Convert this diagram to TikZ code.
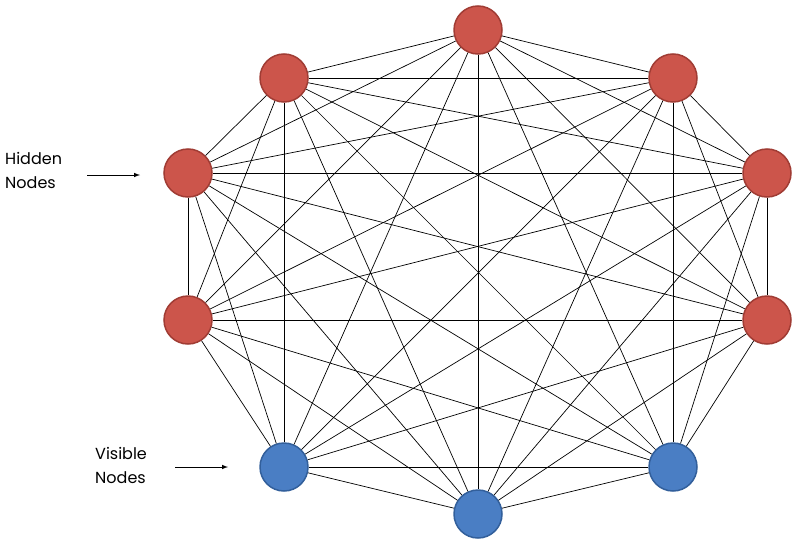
\documentclass[tikz,border=0pt]{standalone}
\usepackage{fontspec}
\setmainfont{Poppins}
\begin{document}
\begin{tikzpicture}[x=1pt,y=-1pt,
  hid/.style={circle,minimum size=48pt,inner sep=0pt,fill={rgb,255:red,204;green,85;blue,75},draw={rgb,255:red,160;green,60;blue,52},line width=1.5pt},
  vis/.style={circle,minimum size=48pt,inner sep=0pt,fill={rgb,255:red,74;green,126;blue,196},draw={rgb,255:red,50;green,95;blue,155},line width=1.5pt},
  lab/.style={align=left,font=\fontsize{16}{24}\selectfont,inner sep=0pt},
  edge/.style={line width=0.7pt,black}]
\useasboundingbox (0,0) rectangle (799,543);
\node[hid] (n1) at (478,30) {};
\node[hid] (n2) at (673,78) {};
\node[hid] (n3) at (767,173) {};
\node[hid] (n4) at (767,320) {};
\node[vis] (n5) at (673,467) {};
\node[vis] (n6) at (478,514) {};
\node[vis] (n7) at (284,467) {};
\node[hid] (n8) at (188,320) {};
\node[hid] (n9) at (188,173) {};
\node[hid] (n10) at (284,78) {};
\begin{scope}[on background layer/.style={}]
\foreach \i in {1,...,9} {
  \pgfmathtruncatemacro\k{\i+1}
  \foreach \j in {\k,...,10} { \draw[edge] (n\i) -- (n\j); }
}
\end{scope}
\node[lab,anchor=west] (h) at (5,170) {Hidden\\Nodes};
\node[lab,anchor=west] (v) at (95,465) {Visible\\Nodes};
\coordinate (ha) at (140,175);
\coordinate (va) at (228,467);
\draw[-latex,line width=1pt] (87,175) -- (ha);
\draw[-latex,line width=1pt] (175,467) -- (va);
\end{tikzpicture}
\end{document}
